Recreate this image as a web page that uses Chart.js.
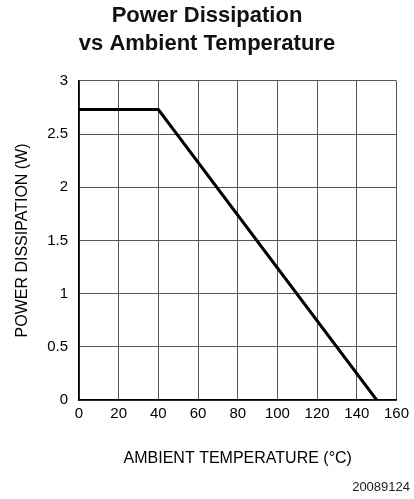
<!DOCTYPE html>
<html>
<head>
<meta charset="utf-8">
<script src="https://cdn.jsdelivr.net/npm/chart.js@4.4.1/dist/chart.umd.min.js"></script>
<style>
  html, body { margin: 0; padding: 0; background: #fff; }
  #wrap { width: 414px; height: 499px; }
</style>
</head>
<body>
<div id="wrap"><canvas id="powerChart"></canvas></div>
<script>
// derating curve
const ambientTemps = [0, 40, 150];
const powerWatts = [2.73, 2.73, 0];
const xTickValues = [0, 20, 40, 60, 80, 100, 120, 140, 160];
const yTickValues = [0, 0.5, 1, 1.5, 2, 2.5, 3];

const FONT = "'Liberation Sans', Arial, Helvetica, sans-serif";

const points = ambientTemps.map((t, i) => ({ x: t, y: powerWatts[i] }));

const data = {
  datasets: [{
    data: points,
    borderColor: '#000',
    borderWidth: 3,
    pointRadius: 0,
    fill: false,
    tension: 0
  }]
};

// config
const config = {
  type: 'line',
  data,
  options: {
    responsive: true,
    maintainAspectRatio: false,
    animation: false,
    devicePixelRatio: 1,
    layout: { padding: { left: 4, right: 4, top: 0, bottom: 0 } },
    plugins: {
      legend: { display: false },
      tooltip: { enabled: false },
      title: {
        display: true,
        text: ['Power Dissipation', 'vs Ambient Temperature'],
        color: '#111',
        font: { family: FONT, size: 22, weight: 'bold', lineHeight: 1.27 },
        padding: { top: 2, bottom: 23 }
      },
      subtitle: {
        display: true,
        position: 'bottom',
        align: 'end',
        text: '20089124',
        color: '#222',
        font: { family: FONT, size: 13, lineHeight: 1.2 },
        padding: { top: 0, bottom: 4 }
      }
    },
    scales: {
      x: {
        type: 'linear',
        min: 0,
        max: 160,
        afterBuildTicks: s => { s.ticks = xTickValues.map(v => ({ value: v })); },
        afterFit: s => { s.height = 79.4; },
        ticks: { color: '#000', font: { family: FONT, size: 15 }, padding: 5, maxRotation: 0,
                 callback: v => String(v) },
        grid: { color: '#555', lineWidth: 1, drawTicks: false },
        border: { color: '#000', width: 1.5 },
        title: {
          display: true,
          text: 'AMBIENT TEMPERATURE (°C)',
          color: '#000',
          font: { family: FONT, size: 16, lineHeight: 1.2 },
          padding: { top: 0, bottom: 11 }
        }
      },
      y: {
        type: 'linear',
        min: 0,
        max: 3,
        afterBuildTicks: s => { s.ticks = yTickValues.map(v => ({ value: v })); },
        afterFit: s => { s.width = 75; },
        ticks: { color: '#000', font: { family: FONT, size: 15 }, padding: 11,
                 callback: v => String(v) },
        grid: { color: '#555', lineWidth: 1, drawTicks: false },
        border: { color: '#000', width: 1.5 },
        title: {
          display: true,
          text: 'POWER DISSIPATION (W)',
          color: '#000',
          font: { family: FONT, size: 16, lineHeight: 1.2 },
          padding: { top: 9, bottom: 0 }
        }
      },
      // empty right axis, only keeps room on the right side
      yRight: {
        position: 'right',
        min: 0,
        max: 3,
        afterFit: s => { s.width = 13; },
        ticks: { display: false },
        grid: { display: false, drawTicks: false },
        border: { display: false }
      }
    }
  }
};

// render init block
const powerChart = new Chart(
  document.getElementById('powerChart'),
  config
);
</script>
</body>
</html>
